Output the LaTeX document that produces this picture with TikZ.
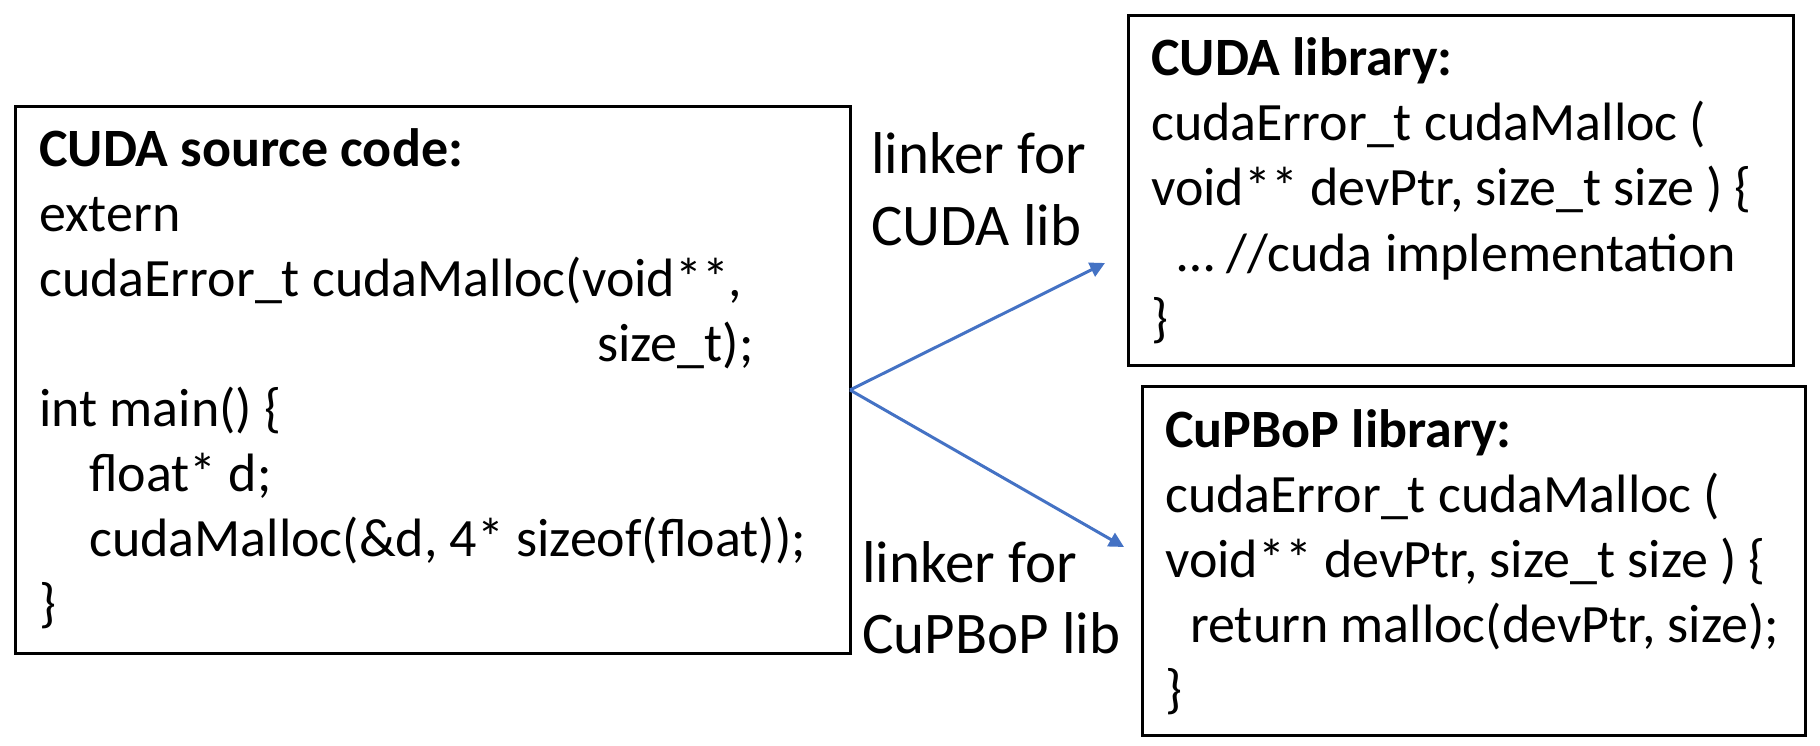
\documentclass[tikz,border=0pt]{standalone}
\usepackage{fontspec}
\setmainfont{Carlito}
\usetikzlibrary{arrows.meta}
\definecolor{arrowblue}{HTML}{4472C4}
\begin{document}
\begin{tikzpicture}[x=1pt,y=-1pt,
  box/.style={draw=black,line width=3pt,rectangle,inner sep=0pt},
  txt/.style={anchor=base west,inner sep=0pt,font=\fontsize{54}{65}\selectfont},
  hd/.style={txt,font=\fontsize{54}{65}\selectfont\bfseries},
  lbl/.style={anchor=base west,inner sep=0pt,font=\fontsize{59}{71}\selectfont},
  link/.style={draw=arrowblue,line width=3pt,-{Triangle[length=15pt,width=15pt]}}]
\useasboundingbox (0,0) rectangle (1820,746);
% boxes
\node[box,minimum width=835pt,minimum height=546pt] (src) at (432.5,380) {};
\node[box,minimum width=665pt,minimum height=350pt] (cudalib) at (1461,190.5) {};
\node[box,minimum width=663pt,minimum height=349pt] (cupbop) at (1474,560.5) {};
% source code text
\node[hd]  (s0) at (39,166.5) {CUDA source code:};
\node[txt] (s1) at (39,231.5) {extern};
\node[txt] (s2) at (39,296.5) {cudaError\_t cudaMalloc(void**,};
\node[txt] (s3) at (597,361.5) {size\_t);};
\node[txt] (s4) at (39,426.5) {int main() \{};
\node[txt] (s5) at (89,491.5) {float* d;};
\node[txt] (s6) at (89,556.5) {cudaMalloc(\&d, 4* sizeof(float));};
\node[txt] (s7) at (39,621.5) {\}};
% CUDA library text
\node[hd]  (c0) at (1151,76) {CUDA library:};
\node[txt] (c1) at (1151,141) {cudaError\_t cudaMalloc (};
\node[txt] (c2) at (1151,206) {void** devPtr, size\_t size ) \{};
\node[txt] (c3) at (1177,271) {… //cuda implementation};
\node[txt] (c4) at (1151,336) {\}};
% CuPBoP library text
\node[hd]  (p0) at (1165,447) {CuPBoP library:};
\node[txt] (p1) at (1165,512) {cudaError\_t cudaMalloc (};
\node[txt] (p2) at (1165,577) {void** devPtr, size\_t size ) \{};
\node[txt] (p3) at (1190,642) {return malloc(devPtr, size);};
\node[txt] (p4) at (1165,707) {\}};
% linker labels
\node[lbl] (l1) at (871,174) {linker for};
\node[lbl] (l2) at (871,245) {CUDA lib};
\node[lbl] (l3) at (862,582) {linker for};
\node[lbl] (l4) at (862,653) {CuPBoP lib};
% arrows
\coordinate (o) at (850,390);
\coordinate (t1) at (1105,263);
\coordinate (t2) at (1124,547);
\draw[link] (o) -- (t1);
\draw[link] (o) -- (t2);
\end{tikzpicture}
\end{document}
